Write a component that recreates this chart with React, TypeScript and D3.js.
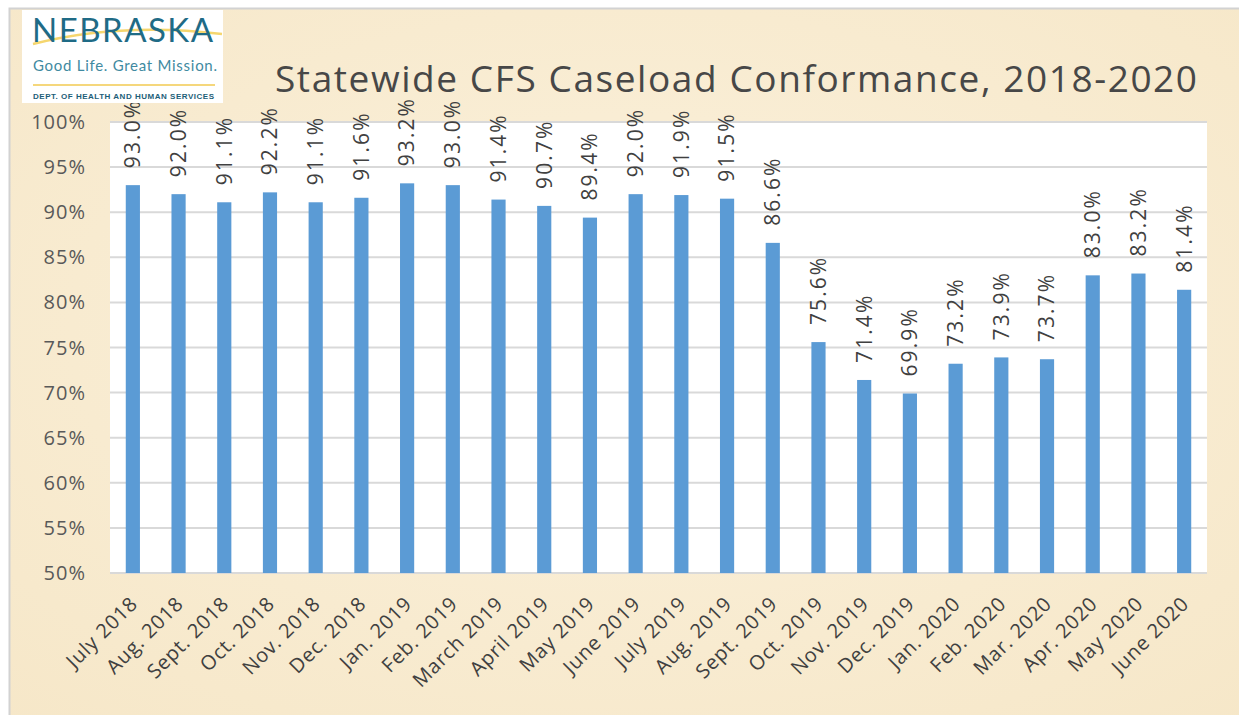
import React from 'react';
import * as d3 from 'd3';

const months = [
  'July 2018', 'Aug. 2018', 'Sept. 2018', 'Oct. 2018', 'Nov. 2018', 'Dec. 2018',
  'Jan. 2019', 'Feb. 2019', 'March 2019', 'April 2019', 'May 2019', 'June 2019',
  'July 2019', 'Aug. 2019', 'Sept. 2019', 'Oct. 2019', 'Nov. 2019', 'Dec. 2019',
  'Jan. 2020', 'Feb. 2020', 'Mar. 2020', 'Apr. 2020', 'May 2020', 'June 2020'
];

const conformance = [
  93.0, 92.0, 91.1, 92.2, 91.1, 91.6, 93.2, 93.0, 91.4, 90.7, 89.4, 92.0,
  91.9, 91.5, 86.6, 75.6, 71.4, 69.9, 73.2, 73.9, 73.7, 83.0, 83.2, 81.4
];

const yTicks = [50, 55, 60, 65, 70, 75, 80, 85, 90, 95, 100];

const W = 1239;
const H = 715;
const FONT = '"Open Sans", "Liberation Sans", sans-serif';

const App: React.FC = () => {
  const svgRef = React.useRef<SVGSVGElement>(null);

  React.useEffect(() => {
    if (!svgRef.current) return;
    d3.select(svgRef.current).selectAll('*').remove();
    const svg = d3.select(svgRef.current);

    // background
    svg.append('rect').attr('width', W).attr('height', H).attr('fill', '#ffffff');
    const defs = svg.append('defs');
    const grad = defs.append('radialGradient').attr('id', 'parch').attr('cx', '50%').attr('cy', '45%').attr('r', '75%');
    grad.append('stop').attr('offset', '0%').attr('stop-color', '#fbf1dc');
    grad.append('stop').attr('offset', '100%').attr('stop-color', '#f6e7c8');
    svg.append('rect')
      .attr('x', 9.5).attr('y', 8.5)
      .attr('width', W).attr('height', H)
      .attr('fill', 'url(#parch)')
      .attr('stroke', '#d2d2d2')
      .attr('stroke-width', 2);

    const margin = { left: 110, right: 1207, top: 122, bottom: 573 };

    const x = d3.scaleBand<string>()
      .domain(months)
      .range([margin.left, margin.right])
      .paddingInner(0.69)
      .paddingOuter(0.345);

    const y = d3.scaleLinear().domain([50, 100]).range([margin.bottom, margin.top]);

    // plot area
    svg.append('rect')
      .attr('x', margin.left).attr('y', margin.top)
      .attr('width', margin.right - margin.left)
      .attr('height', margin.bottom - margin.top)
      .attr('fill', '#ffffff');

    // gridlines
    svg.append('g')
      .selectAll('line')
      .data(yTicks)
      .enter().append('line')
      .attr('x1', margin.left).attr('x2', margin.right)
      .attr('y1', d => y(d)).attr('y2', d => y(d))
      .attr('stroke', '#d9d9d9')
      .attr('stroke-width', 2);

    // y labels
    svg.append('g')
      .selectAll('text')
      .data(yTicks)
      .enter().append('text')
      .attr('x', 86)
      .attr('y', d => y(d))
      .attr('dy', '0.35em')
      .attr('text-anchor', 'end')
      .attr('font-family', FONT)
      .attr('font-size', 20)
      .attr('letter-spacing', 1)
      .attr('fill', '#595959')
      .text(d => `${d}%`);

    // bars
    svg.append('g')
      .selectAll('rect')
      .data(conformance)
      .enter().append('rect')
      .attr('x', (d, i) => x(months[i]) || 0)
      .attr('y', d => y(d))
      .attr('width', x.bandwidth())
      .attr('height', d => margin.bottom - y(d))
      .attr('fill', '#5b9bd5');

    // value labels
    svg.append('g')
      .selectAll('text')
      .data(conformance)
      .enter().append('text')
      .attr('transform', (d, i) => {
        const cx = (x(months[i]) || 0) + x.bandwidth() / 2;
        return `translate(${cx},${y(d) - 17}) rotate(-90)`;
      })
      .attr('dy', '0.35em')
      .attr('text-anchor', 'start')
      .attr('font-family', FONT)
      .attr('font-size', 21)
      .attr('letter-spacing', 2.1)
      .attr('fill', '#404040')
      .text(d => `${d.toFixed(1)}%`);

    // x labels
    svg.append('g')
      .selectAll('text')
      .data(months)
      .enter().append('text')
      .attr('transform', d => {
        const cx = (x(d) || 0) + x.bandwidth() / 2;
        return `translate(${cx + 6},${605}) rotate(-45)`;
      })
      .attr('text-anchor', 'end')
      .attr('font-family', FONT)
      .attr('font-size', 20)
      .attr('letter-spacing', 0.8)
      .attr('fill', '#404040')
      .text(d => d);

    // title
    svg.append('text')
      .attr('x', 736)
      .attr('y', 92)
      .attr('text-anchor', 'middle')
      .attr('font-family', FONT)
      .attr('font-size', 37)
      .attr('textLength', 922)
      .attr('lengthAdjust', 'spacing')
      .attr('fill', '#474747')
      .text('Statewide CFS Caseload Conformance, 2018-2020');

    // logo
    const logo = svg.append('g');
    logo.append('rect')
      .attr('x', 22).attr('y', 10)
      .attr('width', 201).attr('height', 93)
      .attr('fill', '#ffffff');
    logo.append('path')
      .attr('d', 'M 33 44 Q 120 22 222 34')
      .attr('fill', 'none')
      .attr('stroke', '#f5d66e')
      .attr('stroke-width', 2.5);
    logo.append('text')
      .attr('x', 32).attr('y', 42)
      .attr('font-family', '"Lato", sans-serif')
      .attr('font-weight', 400)
      .attr('font-size', 33)
      .attr('fill', '#1f6b86')
      .attr('textLength', 181)
      .text('NEBRASKA');
    logo.append('text')
      .attr('x', 33).attr('y', 71)
      .attr('font-family', '"Lato", sans-serif')
      .attr('font-size', 15)
      .attr('fill', '#3f8aa1')
      .attr('textLength', 184)
      .text('Good Life. Great Mission.');
    logo.append('line')
      .attr('x1', 33).attr('x2', 215)
      .attr('y1', 85).attr('y2', 85)
      .attr('stroke', '#f5d77c')
      .attr('stroke-width', 2);
    logo.append('text')
      .attr('x', 33).attr('y', 99)
      .attr('font-family', '"Liberation Sans", sans-serif')
      .attr('font-weight', 'bold')
      .attr('font-size', 8)
      .attr('fill', '#1d5e78')
      .attr('textLength', 181)
      .text('DEPT. OF HEALTH AND HUMAN SERVICES');
  }, []);

  return (
    <svg
      ref={svgRef}
      width={W}
      height={H}
      style={{ position: 'absolute', left: 0, top: 0, display: 'block' }}
    />
  );
};

export default App;
